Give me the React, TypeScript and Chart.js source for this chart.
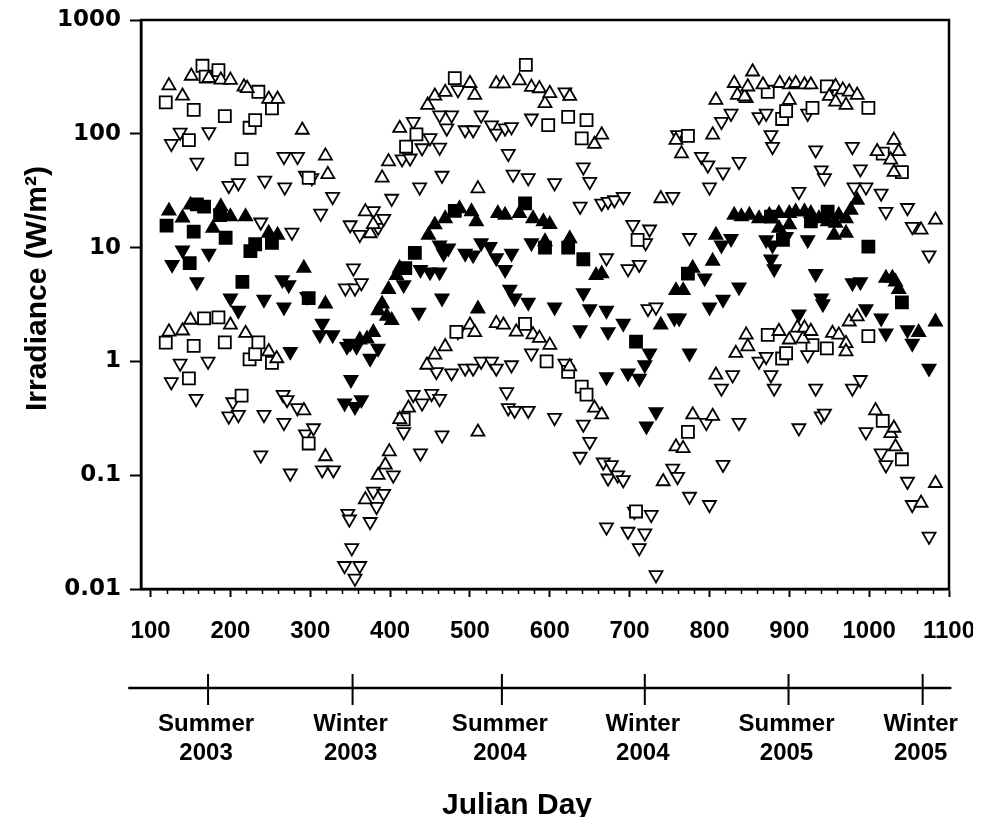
import { useEffect, useRef } from "react";
import Chart from "chart.js/auto";

type P = [number, number];

// ---- axis tick values ----
const xTickValues = [100, 200, 300, 400, 500, 600, 700, 800, 900, 1000, 1100];
const yTickValues = [0.01, 0.1, 1, 10, 100, 1000];
const seasonDays = [172, 353, 540, 719, 899, 1067];
const seasonNames = ["Summer", "Winter", "Summer", "Winter", "Summer", "Winter"];
const seasonYears = ["2003", "2003", "2004", "2004", "2005", "2005"];

// ---- upper band (open symbols) ----
const topUp: P[] = [
  [123, 265], [140, 215], [151, 322], [173, 309], [188, 298], [200, 296], [217, 259], [221, 251], [248, 202], [259, 202], [290, 108], [319, 64], [322, 44],
  [369, 20.7], [375, 13.3], [379, 16], [390, 41], [398, 57], [412, 112], [447, 179], [456, 215], [469, 232], [500, 278], [506, 219], [510, 33], [533, 276], [542, 276], [562, 293], [577, 257], [587, 250], [594, 185], [600, 227], [625, 214], [656, 81], [665, 98],
  [739, 27], [758, 88], [765, 67], [804, 98], [808, 198], [831, 278], [835, 219], [846, 205], [844, 212], [848, 259], [854, 351], [867, 270], [888, 278], [900, 270], [900, 198], [908, 278], [919, 270], [927, 270], [950, 214], [958, 261], [958, 191], [967, 243], [971, 179], [975, 234], [985, 219], [1010, 70], [1027, 59], [1031, 88], [1031, 46], [1037, 70], [1065, 14.3], [1083, 17.5],
];
const topSquare: P[] = [
  [119, 189], [148, 88], [154, 162], [165, 396], [169, 318], [185, 363], [193, 143], [214, 60], [224, 113], [231, 132], [235, 234], [252, 167], [298, 41],
  [420, 77], [433, 99], [481, 308], [570, 403], [598, 119], [623, 141], [640, 91], [646, 132], [710, 11.7], [773, 96],
  [873, 234], [891, 135], [896, 158], [929, 169], [947, 261], [999, 169], [1017, 67], [1041, 46],
];
const topDown: P[] = [
  [126, 82], [137, 103], [158, 56], [173, 104], [198, 35], [210, 37], [238, 16.7], [243, 39], [267, 63], [268, 34], [277, 13.6], [284, 63], [294, 43], [302, 41], [313, 20], [328, 28],
  [344, 4.4], [350, 15.8], [354, 6.6], [356, 4.4], [362, 13], [364, 4.9], [379, 21], [385, 15], [392, 18], [402, 27], [415, 60], [425, 61], [429, 128], [437, 34], [440, 75], [450, 92], [462, 76], [462, 146], [465, 43], [471, 112], [477, 146], [485, 243], [494, 108], [504, 108], [514, 146], [527, 119], [533, 101], [544, 112], [548, 67], [552, 115], [554, 44], [573, 41], [577, 137],
  [606, 37], [619, 232], [638, 23], [642, 51], [650, 38], [665, 24.5], [671, 8.1], [673, 25.4], [681, 26.2], [692, 28], [698, 6.5], [704, 15.9], [712, 7.1], [720, 11], [723, 2.9], [725, 14.5], [733, 3.0],
  [754, 28], [760, 98], [775, 12.2], [790, 63], [798, 53], [800, 34], [815, 128], [817, 46], [827, 151], [837, 57], [862, 141], [871, 151], [877, 98], [879, 77], [912, 31], [923, 151], [933, 72], [940, 48], [944, 41], [979, 77], [981, 34], [989, 49], [996, 34], [1015, 30], [1021, 20.7], [1048, 22.4], [1054, 15.3], [1075, 8.6],
];

// ---- middle band (filled symbols) ----
const midUp: P[] = [
  [123, 21], [140, 18.3], [150, 23.7], [178, 14.8], [188, 22.9], [200, 18.7], [219, 18.7], [248, 13.4], [259, 12.9], [292, 6.6], [319, 3.2],
  [362, 1.55], [371, 1.58], [379, 1.8], [385, 2.8], [390, 3.2], [396, 2.5], [402, 2.3], [398, 4.3], [408, 5.7], [412, 6.6], [448, 12.9], [456, 15.9], [469, 18], [487, 22], [502, 20.7], [508, 16.9], [510, 2.9], [535, 20], [544, 19.3], [562, 20], [579, 18], [592, 16.9], [594, 11.3], [600, 16], [625, 12], [658, 5.7], [665, 5.9], [739, 2.09],
  [758, 4.2], [767, 4.2], [779, 6.6], [804, 7.6], [808, 12.9], [831, 19.3], [840, 18.7], [850, 19.3], [862, 18], [875, 19.3], [887, 20], [887, 14.8], [900, 20], [900, 15.9], [908, 20.7], [919, 20.7], [927, 20], [937, 18], [948, 16.9], [956, 12.9], [958, 16.4], [962, 19.3], [971, 18], [971, 13.4], [977, 21.4], [985, 26.2], [1021, 5.4], [1029, 5.4], [1033, 5.0], [1037, 4.3], [1062, 1.8], [1083, 2.23],
];
const midSquare: P[] = [
  [120, 15.6], [149, 7.3], [154, 13.8], [158, 24], [167, 22.9], [187, 19.3], [194, 12.2], [215, 5.0], [225, 9.3], [231, 10.7], [252, 11.0], [298, 3.6],
  [419, 6.6], [431, 9.0], [481, 21], [569, 24.5], [594, 10], [623, 10], [642, 7.9], [708, 1.49], [773, 5.9],
  [877, 18.7], [892, 11.7], [927, 17], [948, 20.7], [999, 10.2], [1041, 3.3],
];
const midDown: P[] = [
  [127, 7.1], [140, 9.5], [158, 5.0], [173, 8.9], [200, 3.6], [210, 2.8], [242, 3.5], [265, 5.2], [267, 3.0], [273, 4.7], [275, 1.22], [296, 3.7], [312, 1.71], [315, 2.16], [328, 1.71], [343, 0.43], [346, 1.35], [350, 1.44], [351, 0.69], [356, 0.40], [358, 1.35], [364, 0.46], [375, 1.06], [385, 1.3],
  [417, 4.7], [436, 2.7], [438, 6.4], [450, 6.1], [462, 6.1], [462, 10.5], [465, 3.6], [467, 8.9], [473, 9.9], [494, 8.9], [504, 8.6], [514, 11], [525, 10.2], [533, 8.1], [544, 6.4], [550, 4.3], [552, 8.9], [556, 3.6], [573, 3.3], [577, 11],
  [606, 3.0], [638, 1.89], [642, 4.0], [650, 2.9], [671, 2.8], [671, 0.73], [673, 1.82], [692, 2.16], [698, 0.79], [712, 0.71], [719, 0.93], [721, 0.27], [725, 1.18], [733, 0.36], [756, 2.4], [762, 2.4], [775, 1.18], [794, 5.4], [800, 3.0], [815, 10.5], [817, 3.5], [827, 12], [837, 4.5],
  [871, 11.7], [877, 7.9], [879, 10.5], [881, 6.5], [896, 12.5], [912, 2.6], [923, 11.7], [933, 5.9], [940, 3.6], [942, 3.2], [979, 4.9], [989, 5.0], [996, 2.9], [1015, 2.4], [1021, 1.77], [1048, 1.89], [1054, 1.44], [1075, 0.87],
];

// ---- lower band (open symbols) ----
const botUp: P[] = [
  [123, 1.82], [140, 1.86], [150, 2.31], [200, 2.09], [219, 1.77], [248, 1.22], [258, 1.06], [292, 0.37], [319, 0.146],
  [369, 0.061], [385, 0.10], [394, 0.123], [399, 0.161], [412, 0.31], [423, 0.39], [446, 0.93], [456, 1.14], [469, 1.35], [500, 2.09], [506, 1.80], [510, 0.24], [533, 2.16], [542, 2.09], [558, 1.82], [579, 1.72], [587, 1.6], [600, 1.39], [625, 0.90], [656, 0.39], [665, 0.34],
  [742, 0.088], [758, 0.178], [767, 0.172], [779, 0.34], [804, 0.33], [808, 0.76], [833, 1.18], [846, 1.71], [848, 1.35], [887, 1.84], [900, 1.55], [910, 1.97], [917, 1.58], [919, 1.97], [927, 1.84], [954, 1.77], [962, 1.71], [971, 1.44], [971, 1.22], [975, 2.23], [985, 2.47], [1008, 0.37], [1027, 0.233], [1031, 0.26], [1033, 0.178], [1065, 0.057], [1083, 0.085],
];
const botSquare: P[] = [
  [119, 1.46], [148, 0.71], [154, 1.37], [167, 2.39], [185, 2.44], [193, 1.47], [214, 0.50], [224, 1.04], [231, 1.16], [235, 1.47], [252, 0.97], [298, 0.19],
  [417, 0.31], [483, 1.82], [569, 2.14], [596, 1.0], [623, 0.81], [640, 0.60], [646, 0.51], [708, 0.048], [773, 0.24],
  [873, 1.71], [891, 1.06], [896, 1.18], [929, 1.39], [947, 1.30], [999, 1.67], [1017, 0.30], [1041, 0.138],
];
const botDown: P[] = [
  [126, 0.66], [137, 0.96], [157, 0.47], [172, 1.0], [198, 0.33], [203, 0.44], [210, 0.34], [238, 0.150], [242, 0.34], [266, 0.51], [267, 0.29], [271, 0.46], [275, 0.104], [284, 0.39], [294, 0.23], [304, 0.26], [315, 0.111], [329, 0.111],
  [343, 0.016], [347, 0.046], [349, 0.041], [352, 0.023], [356, 0.0124], [362, 0.016], [375, 0.039], [379, 0.072], [383, 0.053], [392, 0.069], [404, 0.10], [417, 0.24], [429, 0.51], [438, 0.156], [440, 0.43], [452, 0.52], [458, 0.81], [462, 0.47], [465, 0.225], [477, 0.79], [485, 1.82], [494, 0.87], [504, 0.87], [514, 1.0], [527, 1.0], [533, 0.87], [546, 0.54], [548, 0.39], [552, 0.93], [556, 0.37], [573, 0.37], [577, 1.18],
  [606, 0.32], [619, 0.96], [638, 0.146], [642, 0.28], [650, 0.197], [667, 0.13], [671, 0.035], [673, 0.094], [677, 0.123], [685, 0.10], [692, 0.091], [698, 0.032], [706, 0.048], [712, 0.023], [719, 0.031], [727, 0.045], [733, 0.0133], [754, 0.115], [760, 0.097], [775, 0.065], [796, 0.29], [800, 0.055], [815, 0.58], [817, 0.124], [829, 0.76], [837, 0.29],
  [862, 1.0], [871, 1.1], [877, 0.76], [881, 0.58], [912, 0.26], [923, 1.14], [933, 0.58], [940, 0.33], [944, 0.35], [979, 0.58], [989, 0.69], [996, 0.24], [1015, 0.156], [1021, 0.123], [1048, 0.088], [1054, 0.055], [1075, 0.029],
];

const X_MIN = 88;
const X_MAX = 1100;
const SANS = "'Liberation Sans', Arial, Helvetica, sans-serif";
const WIDE = "'DejaVu Sans', 'Liberation Sans', sans-serif";

const toPts = (arr: P[]) => arr.map(([x, y]) => ({ x, y }));

function series(label: string, arr: P[], style: string, rot: number, r: number, filled: boolean) {
  return {
    label,
    data: toPts(arr),
    showLine: false,
    pointStyle: style,
    pointRotation: rot,
    pointRadius: r,
    pointHoverRadius: r,
    pointBackgroundColor: filled ? "#000" : "#fff",
    pointBorderColor: "#000",
    pointBorderWidth: 1.8,
    backgroundColor: filled ? "#000" : "#fff",
    borderColor: "#000",
  };
}

const seasonPlugin = {
  id: "seasonAxis",
  afterDraw(chart: any) {
    const { ctx, chartArea, scales } = chart;
    const xs = scales.x;
    const ca = chartArea;
    ctx.save();
    ctx.strokeStyle = "#000";
    ctx.fillStyle = "#000";
    // frame around plot
    ctx.lineWidth = 2.5;
    ctx.strokeRect(ca.left, ca.top, ca.right - ca.left, ca.bottom - ca.top);
    // minor ticks on x axis
    ctx.lineWidth = 1.5;
    for (let v = 120; v < 1100; v += 20) {
      if (v % 100 === 0) continue;
      const px = Math.round(xs.getPixelForValue(v)) + 0.5;
      ctx.beginPath();
      ctx.moveTo(px, ca.bottom);
      ctx.lineTo(px, ca.bottom + 5);
      ctx.stroke();
    }
    // y-axis title
    ctx.save();
    ctx.translate(30, (ca.top + ca.bottom) / 2 - 16);
    ctx.rotate(-Math.PI / 2);
    ctx.font = `bold 30px ${SANS}`;
    ctx.textAlign = "center";
    ctx.textBaseline = "middle";
    ctx.fillText("Irradiance (W/m²)", 0, 0);
    ctx.restore();
    // season axis
    const lineY = ca.bottom + 99;
    ctx.lineWidth = 2.5;
    ctx.beginPath();
    ctx.moveTo(xs.getPixelForValue(72), lineY);
    ctx.lineTo(xs.getPixelForValue(1103), lineY);
    ctx.stroke();
    ctx.lineWidth = 2;
    ctx.font = `bold 24px ${SANS}`;
    ctx.textAlign = "center";
    ctx.textBaseline = "middle";
    seasonDays.forEach((d, i) => {
      const px = xs.getPixelForValue(d);
      ctx.beginPath();
      ctx.moveTo(px, lineY - 14);
      ctx.lineTo(px, lineY + 17);
      ctx.stroke();
      ctx.fillText(seasonNames[i], px - 2, lineY + 36);
      ctx.fillText(seasonYears[i], px - 2, lineY + 65);
    });
    // x title
    ctx.font = `bold 30px ${SANS}`;
    ctx.fillText("Julian Day", (xs.left + xs.right) / 2 - 28, ca.bottom + 217);
    ctx.restore();
  },
};

export default function App() {
  const ref = useRef<HTMLCanvasElement | null>(null);
  useEffect(() => {
    if (!ref.current) return;
    const chart = new Chart(ref.current, {
      type: "scatter",
      data: {
        datasets: [
          series("Upper △", topUp, "triangle", 0, 7.5, false),
          series("Upper □", topSquare, "rect", 0, 8.5, false),
          series("Upper ▽", topDown, "triangle", 180, 7.5, false),
          series("Middle ▲", midUp, "triangle", 0, 7.5, true),
          series("Middle ■", midSquare, "rect", 0, 8.5, true),
          series("Middle ▼", midDown, "triangle", 180, 7.5, true),
          series("Lower △", botUp, "triangle", 0, 7.5, false),
          series("Lower □", botSquare, "rect", 0, 8.5, false),
          series("Lower ▽", botDown, "triangle", 180, 7.5, false),
        ],
      },
      options: {
        animation: false,
        responsive: false,
        devicePixelRatio: 1,
        layout: { padding: { top: 12, right: 24, bottom: 173, left: 0 } },
        plugins: { legend: { display: false }, tooltip: { enabled: false } },
        events: [],
        scales: {
          x: {
            type: "linear",
            min: X_MIN,
            max: X_MAX,
            afterBuildTicks: (s: any) => {
              s.ticks = xTickValues.map((v) => ({ value: v }));
            },
            afterFit: (s: any) => {
              s.height = 55;
              s.paddingLeft = 0;
              s.paddingRight = 0;
            },
            ticks: {
              callback: (v: any) => String(v),
              color: "#000",
              font: { family: SANS, size: 24, weight: "bold" },
              padding: 20,
              maxRotation: 0,
              autoSkip: false,
            },
            grid: { drawOnChartArea: false, drawTicks: true, tickLength: 8, tickWidth: 2, tickColor: "#000" },
            border: { display: true, color: "#000", width: 2.5 },
          },
          y: {
            type: "logarithmic",
            min: 0.01,
            max: 1000,
            afterBuildTicks: (s: any) => {
              s.ticks = yTickValues.map((v) => ({ value: v }));
            },
            afterFit: (s: any) => {
              s.width = 133;
              s.paddingTop = 0;
              s.paddingBottom = 0;
            },
            ticks: {
              callback: (v: any) => String(v),
              color: "#000",
              font: { family: WIDE, size: 23, weight: "bold", lineHeight: 1.0 },
              padding: 9,
              autoSkip: false,
            },
            grid: { drawOnChartArea: false, drawTicks: true, tickLength: 11, tickWidth: 2, tickColor: "#000" },
            border: { display: true, color: "#000", width: 2.5 },
          },
        },
      },
      plugins: [seasonPlugin],
    } as any);
    return () => chart.destroy();
  }, []);
  return (
    <div style={{ width: 965, height: 809 }}>
      <canvas ref={ref} width={965} height={809} style={{ display: "block", width: 965, height: 809 }} />
    </div>
  );
}
